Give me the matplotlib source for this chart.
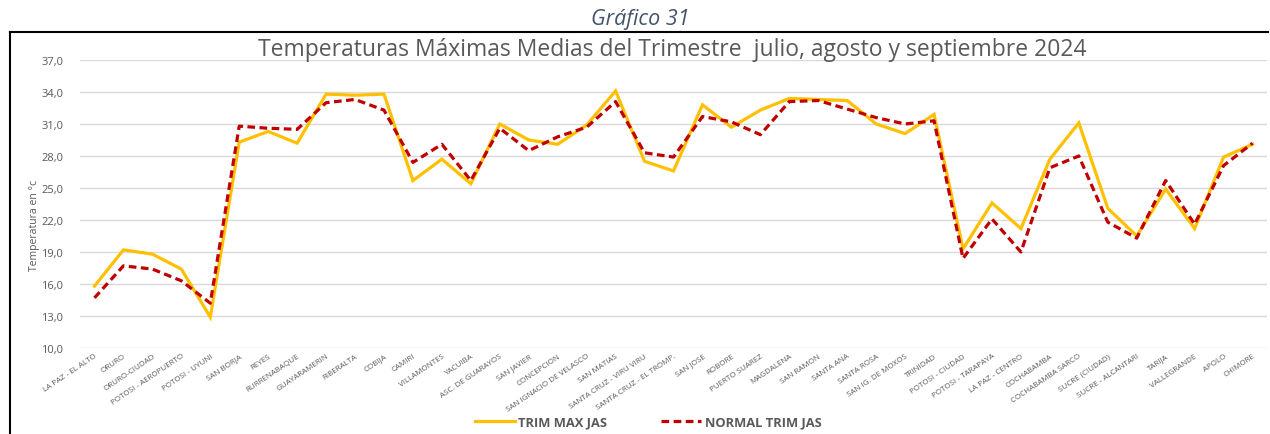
import matplotlib.pyplot as plt
from matplotlib.lines import Line2D
import numpy as np

plt.rcParams['font.family'] = ['Open Sans', 'DejaVu Sans']

# estaciones del trimestre
estaciones = ["LA PAZ - EL ALTO", "ORURO", "ORURO-CIUDAD", "POTOSI - AEROPUERTO", "POTOSI - UYUNI",
              "SAN BORJA", "REYES", "RURRENABAQUE", "GUAYARAMERIN", "RIBERALTA", "COBIJA", "CAMIRI",
              "VILLAMONTES", "YACUIBA", "ASC. DE GUARAYOS", "SAN JAVIER", "CONCEPCION",
              "SAN IGNACIO DE VELASCO", "SAN MATIAS", "SANTA CRUZ - VIRU VIRU", "SANTA CRUZ - EL TROMP.",
              "SAN JOSE", "ROBORE", "PUERTO SUAREZ", "MAGDALENA", "SAN RAMON", "SANTA ANA",
              "SANTA ROSA", "SAN IG. DE MOXOS", "TRINIDAD", "POTOSI - CIUDAD", "POTOSI - TARAPAYA",
              "LA PAZ - CENTRO", "COCHABAMBA", "COCHABAMBA SARCO", "SUCRE (CIUDAD)",
              "SUCRE - ALCANTARI", "TARIJA", "VALLEGRANDE", "APOLO", "CHIMORE"]

trim_max_jas = [15.8, 19.2, 18.8, 17.4, 12.9, 29.3, 30.3, 29.2, 33.8, 33.7, 33.8, 25.7,
                27.7, 25.4, 31.0, 29.5, 29.1, 30.9, 34.1, 27.5, 26.6, 32.8, 30.7, 32.3,
                33.4, 33.3, 33.2, 31.0, 30.1, 31.9, 19.3, 23.6, 21.2, 27.7, 31.1, 23.1,
                20.5, 24.9, 21.2, 27.9, 29.1]

normal_trim_jas = [14.7, 17.7, 17.4, 16.3, 14.2, 30.8, 30.6, 30.5, 33.0, 33.3, 32.3, 27.4,
                   29.1, 25.7, 30.6, 28.5, 29.8, 30.7, 33.1, 28.3, 27.9, 31.7, 31.2, 30.0,
                   33.1, 33.2, 32.4, 31.6, 31.0, 31.3, 18.4, 22.1, 19.0, 26.9, 28.0, 21.8,
                   20.3, 25.7, 21.6, 27.1, 29.2]

marcas_y = [10, 13, 16, 19, 22, 25, 28, 31, 34, 37]

gris = "#595959"
amarillo = "#FFC000"
rojo = "#C00000"

fig = plt.figure(figsize=(12.7, 4.35), dpi=100)
ax = fig.add_axes([80 / 1270, 1 - 349 / 435, 1187 / 1270, 288 / 435])

x = np.arange(len(estaciones))
ax.plot(x, trim_max_jas, color=amarillo, linewidth=2.3, solid_joinstyle="miter", zorder=3)
ax.plot(x, normal_trim_jas, color=rojo, linewidth=2.3, dashes=(2.4, 1.4), zorder=4)

ax.set_xlim(-0.5, len(estaciones) - 0.5)
ax.set_ylim(10, 37)
ax.set_yticks(marcas_y)
ax.set_yticklabels([f"{v:.1f}".replace(".", ",") for v in marcas_y])
ax.grid(axis="y", color="#D9D9D9", linewidth=1)
ax.set_axisbelow(True)
for s in ax.spines.values():
    s.set_visible(False)
ax.tick_params(axis="y", length=0, pad=12, labelsize=8, labelcolor=gris)
ax.tick_params(axis="x", length=0, pad=3)
ax.set_xticks(x)
ax.set_xticklabels(estaciones, rotation=34, ha="right", rotation_mode="anchor",
                   fontsize=5.8, color=gris)

ax.set_ylabel("Temperatura en °c", fontsize=7.5, color=gris)
ax.yaxis.set_label_coords(-0.034, 0.43)

fig.text(0.529, 0.885, "Temperaturas Máximas Medias del Trimestre  julio, agosto y septiembre 2024",
         ha="center", va="center", fontsize=16.5, color=gris)
fig.text(0.504, 0.956, "Gráfico 31", ha="center", va="center", fontsize=15.5,
         style="italic", color="#44546A")

# marco del gráfico
fig.add_artist(Line2D([10 / 1270, 1268 / 1270], [1 - 33 / 435, 1 - 33 / 435],
                      color="black", linewidth=1.5))
fig.add_artist(Line2D([10 / 1270, 10 / 1270], [0, 1 - 33 / 435], color="black", linewidth=1.5))

h1 = Line2D([], [], color=amarillo, linewidth=2.3)
h2 = Line2D([], [], color=rojo, linewidth=2.3, dashes=(2.4, 1.4))
leg = fig.legend([h1, h2], ["TRIM MAX JAS", "NORMAL TRIM JAS"], loc="center",
                 bbox_to_anchor=(648 / 1270, 1 - 423 / 435), ncol=2, frameon=False,
                 handlelength=3.1, handletextpad=0.25, columnspacing=4.2,
                 prop={"size": 9.3, "weight": "bold"})
for t in leg.get_texts():
    t.set_color(gris)

plt.savefig("out.png", dpi=100)
